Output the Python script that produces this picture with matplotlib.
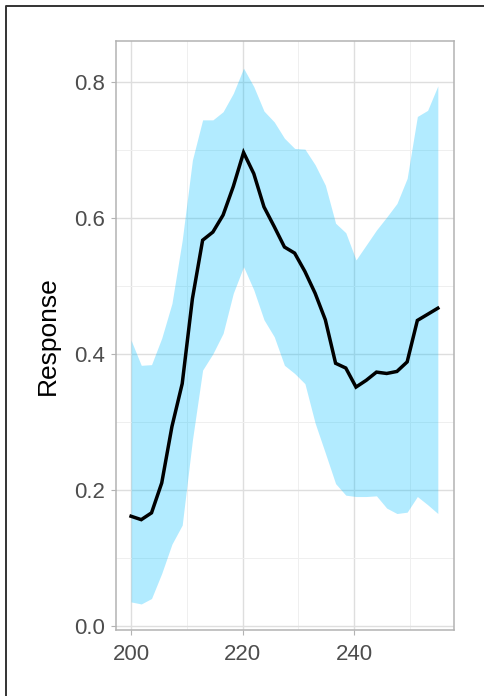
import matplotlib
matplotlib.use("Agg")
import matplotlib.pyplot as plt
from matplotlib.lines import Line2D

plt.rcParams['font.family'] = ['Liberation Sans', 'DejaVu Sans']

x = [200.0, 201.83, 203.67, 205.5, 207.33, 209.17, 211.0, 212.83, 214.67, 216.5,
     218.33, 220.17, 222.0, 223.83, 225.67, 227.5, 229.33, 231.17, 233.0, 234.83,
     236.67, 238.5, 240.33, 242.17, 244.0, 245.83, 247.67, 249.5, 251.33, 253.17, 255.0]
response = [0.161, 0.156, 0.166, 0.210, 0.293, 0.356, 0.481, 0.567, 0.579, 0.604,
            0.646, 0.696, 0.665, 0.616, 0.587, 0.557, 0.548, 0.521, 0.489, 0.450,
            0.386, 0.379, 0.351, 0.361, 0.373, 0.371, 0.374, 0.388, 0.449, 0.458, 0.467]
upper = [0.420, 0.383, 0.384, 0.423, 0.474, 0.567, 0.685, 0.744, 0.744, 0.756,
         0.783, 0.820, 0.793, 0.757, 0.741, 0.717, 0.702, 0.701, 0.678, 0.648,
         0.592, 0.578, 0.538, 0.560, 0.582, 0.601, 0.621, 0.658, 0.749, 0.758, 0.794]
lower = [0.035, 0.032, 0.040, 0.077, 0.120, 0.148, 0.273, 0.376, 0.400, 0.430,
         0.489, 0.528, 0.494, 0.450, 0.425, 0.383, 0.371, 0.356, 0.298, 0.254,
         0.209, 0.192, 0.190, 0.190, 0.191, 0.173, 0.165, 0.167, 0.190, 0.178, 0.165]

x_ticks = [200, 220, 240]
x_minor = [210, 230, 250]
y_ticks = [0.0, 0.2, 0.4, 0.6, 0.8]
y_minor = [0.1, 0.3, 0.5, 0.7]
y_label = "Response"

W, H = 484, 696
fig = plt.figure(figsize=(W / 100, H / 100), dpi=100)
ax = fig.add_axes([116 / W, (H - 630) / H, 338 / W, 589 / H])

ax.set_xlim(197.3, 257.9)
ax.set_ylim(-0.0063, 0.86)

ax.set_axisbelow(True)
ax.set_xticks(x_ticks)
ax.set_xticks(x_minor, minor=True)
ax.set_yticks(y_ticks)
ax.set_yticks(y_minor, minor=True)
ax.set_xticklabels([str(v) for v in x_ticks])
ax.set_yticklabels([f"{v:.1f}" for v in y_ticks])
ax.grid(which='major', color='#DEDEDE', linewidth=1.0)
ax.grid(which='minor', color='#EFEFEF', linewidth=0.7)

ax.fill_between(x, lower, upper, color='#00BFFF', alpha=0.3, linewidth=0)
ax.plot(x, response, color='black', linewidth=2.5, solid_joinstyle='miter')

for s in ax.spines.values():
    s.set_color('#B3B3B3')
    s.set_linewidth(1.1)

ax.tick_params(which='major', length=3.5, width=0.8, color='#B3B3B3',
               labelsize=16, labelcolor='#4D4D4D')
ax.tick_params(axis='x', which='major', pad=6.5)
ax.tick_params(axis='y', which='major', pad=4.5)
ax.tick_params(which='minor', length=0)

ax.set_ylabel(y_label, fontsize=19, color='black')
ax.yaxis.set_label_coords(-0.165, 0.5)

# outer frame (left and top edges)
fig.add_artist(Line2D([6 / W, 6 / W, 1.0], [0.0, 1 - 6 / H, 1 - 6 / H],
                      transform=fig.transFigure, color='#333333', linewidth=1.4))

fig.savefig("out.png", dpi=100, facecolor='white')
